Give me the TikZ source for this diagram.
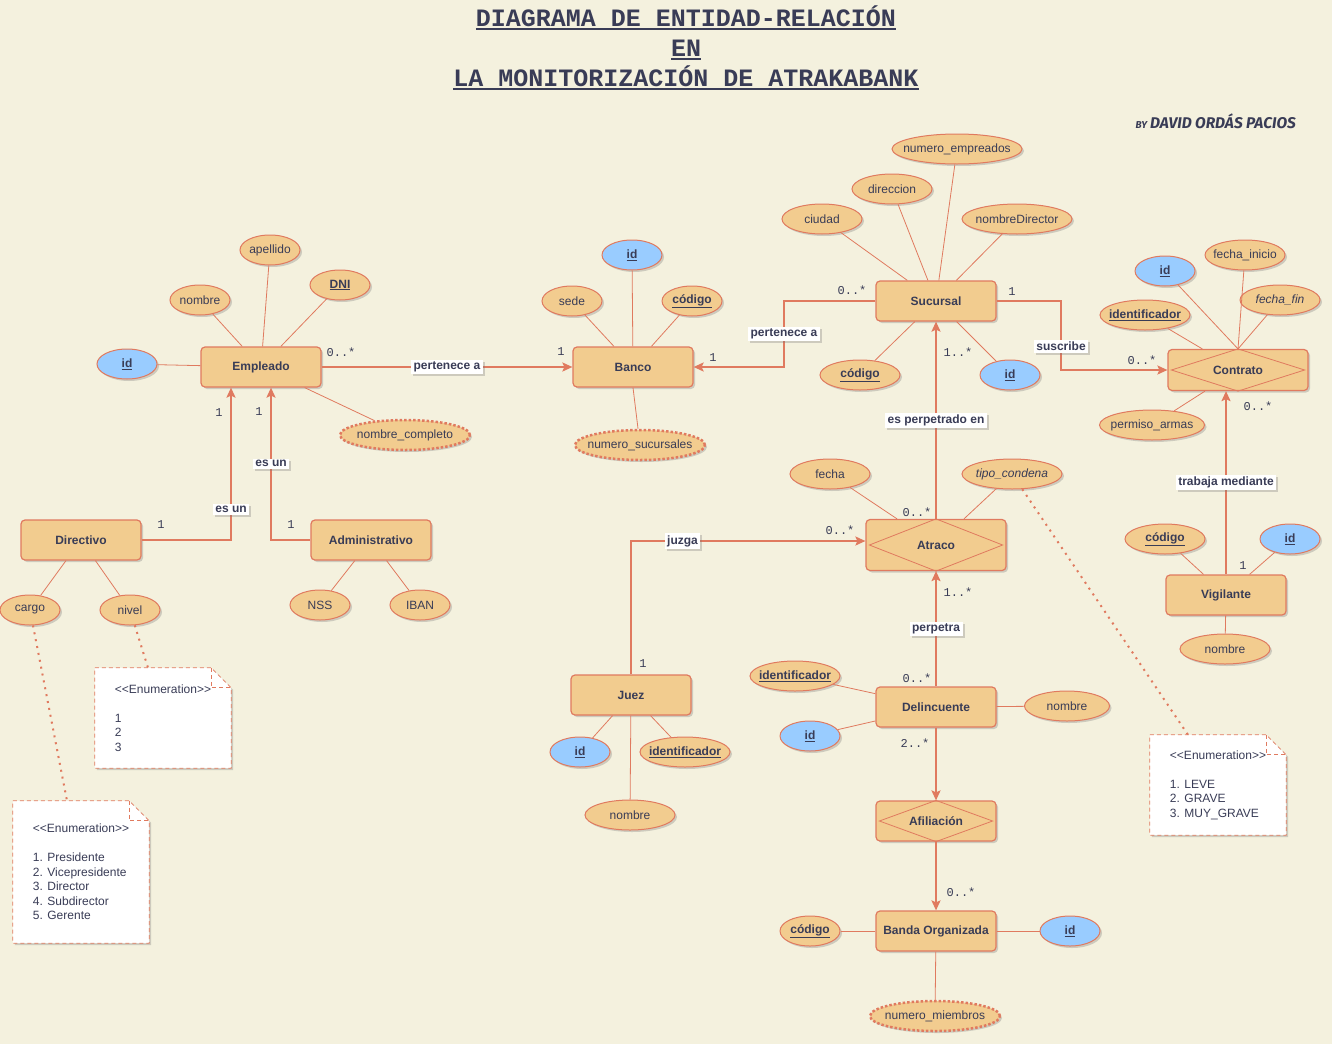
\documentclass[tikz,border=0pt]{standalone}
\usepackage{fontspec}
\setmainfont{Liberation Sans}
\newfontfamily\monofont{Liberation Mono}
\newfontfamily\firmafont{Fira Sans}
\usetikzlibrary{shapes.geometric, arrows.meta, shadows, positioning}

\definecolor{arena}{HTML}{F4F1DE}
\definecolor{crema}{HTML}{F2CC8F}
\definecolor{coral}{HTML}{E07A5F}
\definecolor{tinta}{HTML}{393C56}
\definecolor{celeste}{HTML}{99CCFF}

\pgfdeclarelayer{fondo}
\pgfdeclarelayer{background}
\pgfsetlayers{fondo,background,main}

\newcommand{\nb}[1]{\makebox[0pt]{#1}}
\newcommand{\clave}[1]{\underline{\textbf{#1}}}
\newcommand{\subraya}[1]{\setbox0\hbox{#1}\rlap{\rule[-4pt]{\wd0}{2pt}}\box0}
\newcommand{\estereotipo}{\mbox{<}\mbox{<}Enumeration\mbox{>}\mbox{>}}

\tikzset{
	sombra/.style = {
		drop shadow={shadow xshift=2pt, shadow yshift=-2pt, opacity=0.3, fill=black!55}
	},
	entidad/.style = {
		draw=coral, fill=crema, line width=1.2pt, rounded corners=4pt,
		minimum width=120pt, minimum height=40pt,
		font=\bfseries, text=tinta, sombra
	},
	debil/.style = {
		entidad, minimum width=140pt, minimum height=41pt
	},
	rombo/.style = {
		draw=coral, line width=0.8pt
	},
	atributo/.style = {
		ellipse, draw=coral, fill=crema, line width=1pt,
		minimum width=#1, minimum height=30pt, inner sep=0pt,
		text=tinta, sombra
	},
	atributo/.default = 60pt,
	azul/.style = {
		atributo=#1, fill=celeste
	},
	azul/.default = 60pt,
	derivado/.style = {
		atributo=#1, dash pattern=on 2.5pt off 2pt, line width=2.5pt
	},
	enlace/.style = {
		draw=coral, line width=0.8pt
	},
	rel/.style = {
		draw=coral, line width=2pt,
		-{Stealth[length=10pt, width=9pt, inset=2pt]}
	},
	rotulo/.style = {
		fill=white, font=\bfseries, text=tinta,
		inner xsep=2.5pt, inner ysep=2pt, sombra
	},
	card/.style = {
		font=\monofont, text=tinta
	},
	nota/.style = {
		minimum width=136pt, align=left, text=tinta
	},
	hoja/.style = {
		draw=coral, fill=white, line width=0.8pt, dash pattern=on 4pt off 3pt
	},
	punteado/.style = {
		draw=coral, line width=2pt, dash pattern=on 2pt off 5pt
	}
}

\begin{document}
\fontsize{12}{14.5}\selectfont
\begin{tikzpicture}[x=1pt, y=-1pt]
	\begin{pgfonlayer}{fondo}
		\fill[arena] (0,0) rectangle (1332,1044);
	\end{pgfonlayer}
	\useasboundingbox (0,0) rectangle (1332,1044);

	% titulo y firma
	\node[align=center, text=tinta, font=\monofont\bfseries\fontsize{25}{30}\selectfont] (titulo) at (686,48)
		{\subraya{DIAGRAMA DE ENTIDAD-RELACIÓN}\\\subraya{EN}\\\subraya{LA MONITORIZACIÓN DE ATRAKABANK}};
	\node[anchor=east, text=tinta, font=\firmafont\bfseries\itshape] (firma) at (1300,121)
		{{\fontsize{10}{11}\selectfont BY} {\fontsize{15.5}{17}\selectfont DAVID ORDÁS PACIOS}};

	% entidades
	\node[entidad] (empleado) at (261,367) {Empleado};
	\node[entidad] (banco) at (633,367) {Banco};
	\node[entidad] (sucursal) at (936,301) {Sucursal};
	\node[debil] (contrato) at (1238,370) {Contrato};
	\node[debil, minimum height=51pt] (atraco) at (936,545) {Atraco};
	\node[entidad] (directivo) at (81,540) {Directivo};
	\node[entidad] (administrativo) at (371,540) {Administrativo};
	\node[entidad] (vigilante) at (1226,595) {Vigilante};
	\node[entidad] (juez) at (631,695) {Juez};
	\node[entidad] (delincuente) at (936,707) {Delincuente};
	\node[debil, minimum width=120pt, minimum height=40pt] (afiliacion) at (936,821) {Afiliación};
	\node[entidad] (banda) at (936,931) {Banda Organizada};
	\foreach \n in {contrato, atraco, afiliacion}
		\draw[rombo] ([xshift=4pt]\n.west) -- (\n.north) -- ([xshift=-4pt]\n.east) -- (\n.south) -- cycle;

	% atributos
	\node[atributo] (emp-apellido) at (270,250) {\nb{apellido}};
	\node[atributo] (emp-nombre) at (200,300) {\nb{nombre}};
	\node[atributo] (emp-dni) at (340,285) {\nb{\clave{DNI}}};
	\node[azul] (emp-id) at (127,364) {\nb{\clave{id}}};
	\node[derivado=130pt] (emp-nc) at (405,435) {\nb{nombre\_completo}};

	\node[azul] (ban-id) at (632,255) {\nb{\clave{id}}};
	\node[atributo] (ban-sede) at (572,301) {\nb{sede}};
	\node[atributo] (ban-codigo) at (692,301) {\nb{\clave{código}}};
	\node[derivado=130pt] (ban-ns) at (640,445) {\nb{numero\_sucursales}};

	\node[atributo=130pt] (suc-ne) at (957,149) {\nb{numero\_empreados}};
	\node[atributo=80pt] (suc-dir) at (892,189) {\nb{direccion}};
	\node[atributo=80pt] (suc-ciudad) at (822,219) {\nb{ciudad}};
	\node[atributo=110pt] (suc-nd) at (1017,219) {\nb{nombreDirector}};
	\node[atributo=80pt] (suc-codigo) at (860,375) {\nb{\clave{código}}};
	\node[azul] (suc-id) at (1010,375) {\nb{\clave{id}}};

	\node[azul] (con-id) at (1165,271) {\nb{\clave{id}}};
	\node[atributo=80pt] (con-inicio) at (1245,255) {\nb{fecha\_inicio}};
	\node[atributo=80pt] (con-fin) at (1280,300) {\nb{\itshape fecha\_fin}};
	\node[atributo=90pt] (con-ident) at (1145,315) {\nb{\clave{identificador}}};
	\node[atributo=105pt] (con-permiso) at (1152,425) {\nb{permiso\_armas}};

	\node[atributo=80pt] (atr-fecha) at (830,474) {\nb{fecha}};
	\node[atributo=100pt] (atr-tipo) at (1012,474) {\nb{\itshape tipo\_condena}};

	\node[atributo=80pt] (vig-codigo) at (1165,539) {\nb{\clave{código}}};
	\node[azul] (vig-id) at (1290,539) {\nb{\clave{id}}};
	\node[atributo=90pt] (vig-nombre) at (1225,649) {\nb{nombre}};

	\node[atributo] (dir-cargo) at (30,610) {\nb{cargo}};
	\node[atributo] (dir-nivel) at (130,610) {\nb{nivel}};
	\node[atributo] (adm-nss) at (320,605) {\nb{NSS}};
	\node[atributo] (adm-iban) at (420,605) {\nb{IBAN}};

	\node[azul] (jue-id) at (580,752) {\nb{\clave{id}}};
	\node[atributo=90pt] (jue-ident) at (685,752) {\nb{\clave{identificador}}};
	\node[atributo=90pt] (jue-nombre) at (630,815) {\nb{nombre}};

	\node[atributo=90pt] (del-ident) at (795,676) {\nb{\clave{identificador}}};
	\node[azul] (del-id) at (810,736) {\nb{\clave{id}}};
	\node[atributo=85pt] (del-nombre) at (1067,706) {\nb{nombre}};

	\node[atributo] (ban-org-codigo) at (810,931) {\nb{\clave{código}}};
	\node[azul] (ban-org-id) at (1070,931) {\nb{\clave{id}}};
	\node[derivado=130pt] (ban-org-nm) at (935,1016) {\nb{numero\_miembros}};

	\foreach \a/\b in {empleado/emp-apellido, empleado/emp-nombre, empleado/emp-dni,
			empleado/emp-id, empleado/emp-nc, banco/ban-id, banco/ban-sede,
			banco/ban-codigo, banco.south/ban-ns, sucursal/suc-ne, sucursal/suc-dir,
			sucursal/suc-ciudad, sucursal/suc-nd, sucursal/suc-codigo, sucursal/suc-id,
			contrato.north/con-id, contrato.north/con-inicio, contrato.north/con-fin,
			contrato/con-ident, contrato/con-permiso, atraco/atr-fecha, atraco/atr-tipo,
			vigilante/vig-codigo, vigilante/vig-id, vigilante/vig-nombre,
			directivo/dir-cargo, directivo/dir-nivel, administrativo/adm-nss,
			administrativo/adm-iban, juez/jue-id, juez/jue-ident, juez/jue-nombre,
			delincuente/del-ident, delincuente/del-id, delincuente/del-nombre,
			banda/ban-org-codigo, banda/ban-org-id, banda/ban-org-nm}
		\draw[enlace] (\a) -- (\b);

	% relaciones
	\draw[rel] (empleado) -- node[rotulo] (r-pertenece1) {pertenece a} (banco);
	\draw[rel] (sucursal.west) -- (784,301) |- node[rotulo, pos=0.25] (r-pertenece2) {pertenece a} (banco.east);
	\draw[rel] (sucursal.east) -- (1061,301) |- node[rotulo, pos=0.33] (r-suscribe) {suscribe} (contrato.west);
	\draw[rel] (atraco) -- node[rotulo] (r-perpetrado) {es perpetrado en} (sucursal);
	\draw[rel] (vigilante.north) -- node[rotulo] (r-trabaja) {trabaja mediante} (vigilante.north |- contrato.south);
	\draw[rel] (delincuente) -- node[rotulo] (r-perpetra) {perpetra} (atraco);
	\draw[rel] (juez.north) |- node[rotulo, pos=0.61] (r-juzga) {juzga} ([yshift=4pt]atraco.west);
	\draw[rel] (delincuente) -- (afiliacion);
	\draw[rel] (afiliacion) -- (banda);
	\draw[rel] (directivo.east) -| node[rotulo, pos=0.6] (r-esun1) {es un} ([xshift=-30pt]empleado.south);
	\draw[rel] (administrativo.west) -| node[rotulo, pos=0.75] (r-esun2) {es un} ([xshift=10pt]empleado.south);

	% cardinalidades
	\foreach \x/\y/\t [count=\i] in {341/352/{0..*}, 561/352/1, 852/290/{0..*}, 713/358/1,
			1012/292/1, 1142/360/{0..*}, 958/352/{1..*}, 917/512/{0..*}, 1258/406/{0..*},
			1243/566/1, 958/592/{1..*}, 917/678/{0..*}, 643/664/1, 840/530/{0..*},
			915/743/{2..*}, 961/892/{0..*}, 161/525/1, 219/413/1, 291/525/1, 259/412/1}
		\node[card] (card\i) at (\x,\y) {\t};

	% notas
	\node[nota, minimum height=100pt] (enum-nivel) at (163,718) {\estereotipo\\[14.5pt]1\\2\\3};
	\node[nota, minimum height=142pt] (enum-cargo) at (81,872)
		{\estereotipo\\[14.5pt]1. Presidente\\2. Vicepresidente\\3. Director\\4. Subdirector\\5. Gerente};
	\node[nota, minimum height=100pt] (enum-condena) at (1218,785) {\estereotipo\\[14.5pt]1. LEVE\\2. GRAVE\\3. MUY\_GRAVE};
	\begin{pgfonlayer}{background}
		\foreach \n in {enum-nivel, enum-cargo, enum-condena} {
			\draw[hoja, sombra] (\n.north west) -- ([xshift=-20pt]\n.north east) -- ([yshift=-20pt]\n.north east)
				-- (\n.south east) -- (\n.south west) -- cycle;
			\draw[hoja, fill=none] ([xshift=-20pt]\n.north east) |- ([yshift=-20pt]\n.north east);
		}
	\end{pgfonlayer}
	\draw[punteado] (dir-cargo) -- ([xshift=-14pt]enum-cargo.north);
	\draw[punteado] (dir-nivel) -- ([xshift=-15pt]enum-nivel.north);
	\draw[punteado] (atr-tipo) -- ([xshift=-30pt]enum-condena.north);
\end{tikzpicture}
\end{document}
